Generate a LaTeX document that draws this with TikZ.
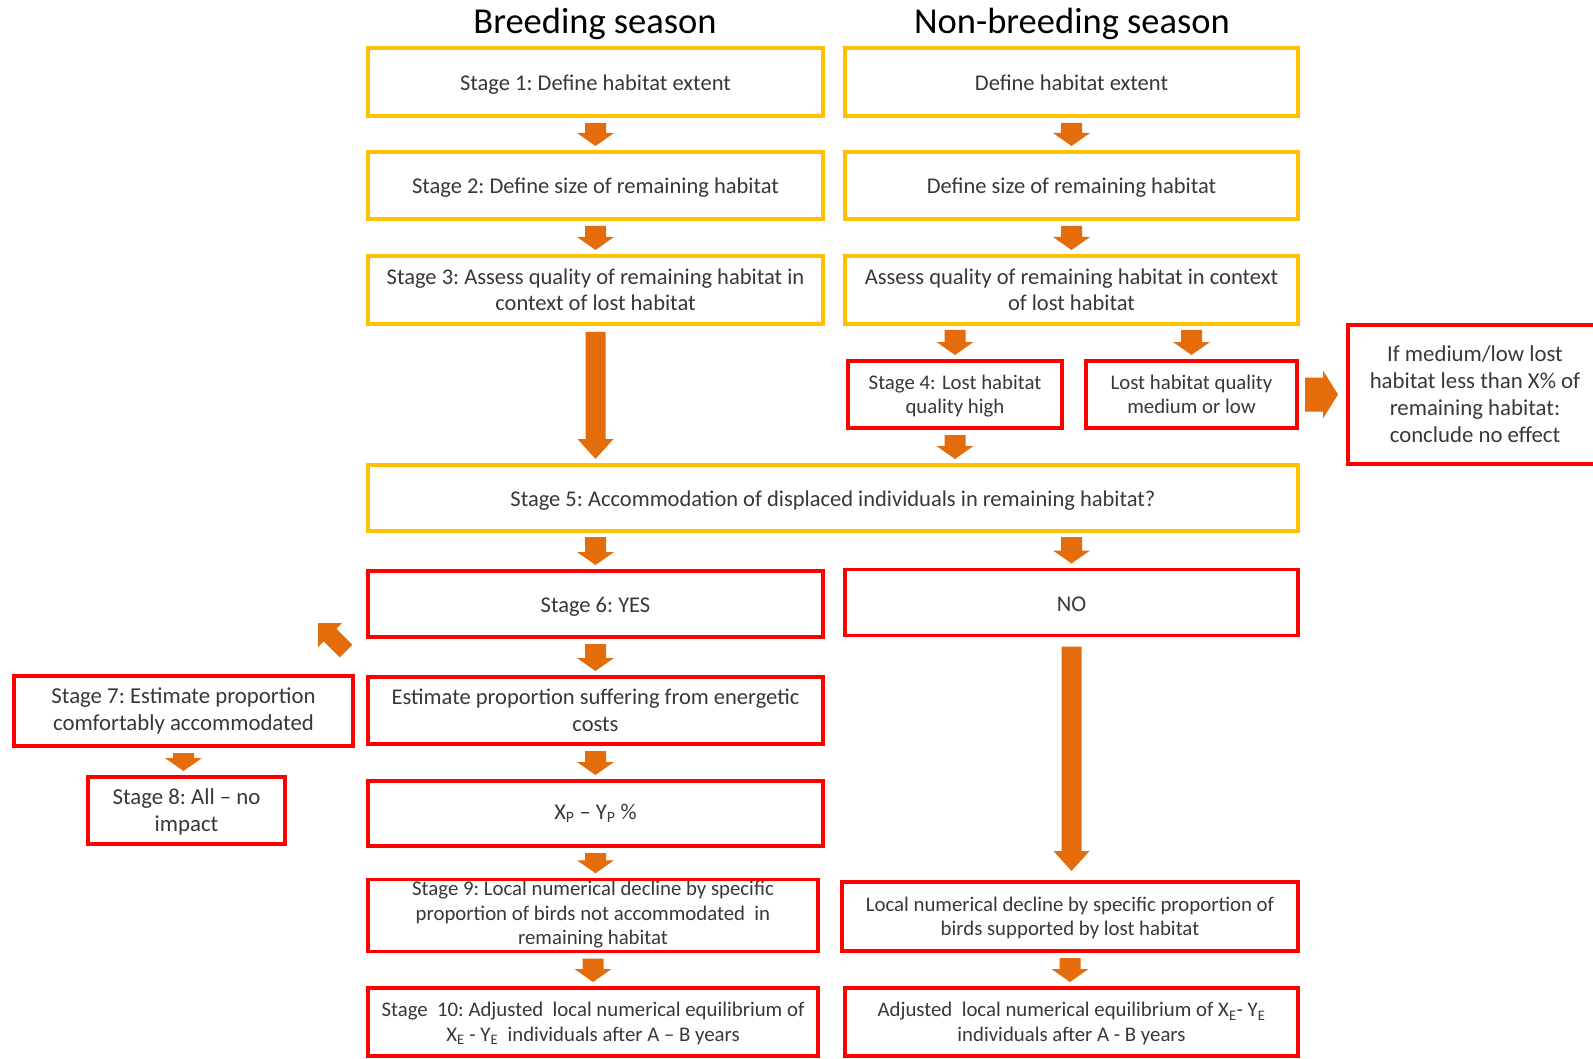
\documentclass[tikz,border=0pt]{standalone}
\usepackage{fontspec}
\setmainfont{Carlito}
\usetikzlibrary{calc}
\definecolor{boxyellow}{RGB}{255,192,0}
\definecolor{boxred}{RGB}{255,0,0}
\definecolor{arroworange}{RGB}{228,108,10}
\definecolor{txt}{RGB}{56,56,56}
\tikzset{
  basebox/.style={draw, line width=3.5pt, align=center, text=txt, inner sep=2pt, outer sep=0pt},
  ybox/.style={basebox, draw=boxyellow, font=\fontsize{22.5}{26.5}\selectfont},
  rbox/.style={basebox, draw=boxred, font=\fontsize{22.5}{26.5}\selectfont},
  rsmall/.style={basebox, draw=boxred, font=\fontsize{20.8}{24.5}\selectfont, text depth=0pt},
  rbig/.style={basebox, draw=boxred, font=\fontsize{22.8}{27}\selectfont},
  oneline/.style={text height=17pt, text depth=0pt},
  coltitle/.style={font=\fontsize{36.5}{40}\selectfont, text=black, anchor=base},
  arrowfill/.style={fill=arroworange},
}
% #1 tail point, #2 tip point, #3 half shaft width, #4 half head width, #5 head length
\newcommand\blockarrow[5]{%
  \coordinate (baT) at #1; \coordinate (baP) at #2;
  \coordinate (baH) at ($(baP)!#5!(baT)$);
  \fill[arrowfill] ($(baT)!#3!90:(baP)$) -- ($(baH)!#3!90:(baP)$) -- ($(baH)!#4!90:(baP)$)
    -- (baP) -- ($(baH)!#4!-90:(baP)$) -- ($(baH)!#3!-90:(baP)$) -- ($(baT)!#3!-90:(baP)$) -- cycle;}
% short downward arrow between two nodes
\newcommand\stepdown[2]{\blockarrow{($(#1.south)+(0,7)$)}{($(#1.south |- #2.north)+(0,-6)$)}{10.5pt}{18.5pt}{13pt}}
\newcommand\longdown[4]{\blockarrow{($(#1.south)+(0,#3)$)}{($(#1.south |- #2.north)+(0,-#4)$)}{10pt}{18pt}{20pt}}
\begin{document}
\begin{tikzpicture}[x=1pt,y=-1pt]
\fill[white] (0,0) rectangle (1593,1059);
\useasboundingbox (0,0) rectangle (1593,1059);

\node[coltitle] (tb) at (595,34) {Breeding season};
\node[coltitle] (tn) at (1072,34) {Non-breeding season};

\node[ybox, oneline, minimum width=455pt, minimum height=68pt] (b1) at (595.5,82) {Stage 1:\ Define habitat extent};
\node[ybox, oneline, minimum width=453pt, minimum height=68pt] (n1) at (1071.5,82) {Define habitat extent};
\node[ybox, oneline, minimum width=455pt, minimum height=67pt] (b2) at (595.5,185.5) {Stage 2:\ Define size of remaining habitat};
\node[ybox, oneline, minimum width=453pt, minimum height=67pt] (n2) at (1071.5,185.5) {Define size of remaining habitat};
\node[ybox, minimum width=455pt, minimum height=68pt] (b3) at (595.5,290) {Stage 3:\ Assess quality of remaining habitat in\\context of lost habitat};
\node[ybox, minimum width=453pt, minimum height=68pt] (n3) at (1071.5,290) {Assess quality of remaining habitat in context\\of lost habitat};

\node[rsmall, minimum width=214pt, minimum height=67pt] (s4) at (955,394.5) {Stage 4: Lost habitat\\quality high};
\node[rsmall, minimum width=211pt, minimum height=67pt] (lq) at (1191.5,394.5) {Lost habitat quality\\medium or low};
\node[rbig, minimum width=254pt, minimum height=139pt] (side) at (1475,394.5) {If medium/low lost\\habitat less than X\% of\\remaining habitat:\\conclude no effect};

\node[ybox, oneline, minimum width=930pt, minimum height=66pt] (s5) at (833,498) {Stage 5:\ Accommodation of displaced individuals in remaining habitat?};

\node[rbox, oneline, minimum width=455pt, minimum height=66pt] (s6) at (595.5,604) {Stage 6:\ YES};
\node[rbox, oneline, minimum width=453pt, minimum height=66pt] (no) at (1071.5,602.5) {NO};

\node[rbig, minimum width=339pt, minimum height=70pt] (s7) at (183.5,711) {Stage 7:\ Estimate proportion\\comfortably accommodated};
\node[rbox, minimum width=455pt, minimum height=67pt] (est) at (595.5,710.5) {Estimate proportion suffering from energetic\\costs};
\node[rbig, text depth=0pt, minimum width=197pt, minimum height=67pt] (s8) at (186.5,810.5) {Stage 8:\ All -- no\\impact};
\node[rbox, minimum width=455pt, minimum height=65pt] (xp) at (595.5,813.5) {X\textsubscript{P} -- Y\textsubscript{P} \%};

\node[rsmall, text depth=5pt, minimum width=450pt, minimum height=71pt] (s9) at (593,915.5) {Stage 9:\ Local numerical decline by specific\\proportion of birds not accommodated\ \ in\\remaining habitat};
\node[rsmall, minimum width=456pt, minimum height=69pt] (loc) at (1070,916.5) {Local numerical decline by specific proportion of\\birds supported by lost habitat};

\node[rsmall, minimum width=450pt, minimum height=68pt] (s10) at (593,1022) {Stage\ \ 10:\ Adjusted\ \ local numerical equilibrium of\\X\textsubscript{E} - Y\textsubscript{E}\ \ individuals after A -- B years};
\node[rsmall, minimum width=453pt, minimum height=68pt] (adj) at (1071.5,1022) {Adjusted\ \ local numerical equilibrium of X\textsubscript{E}- Y\textsubscript{E}\\individuals after A - B years};

% connectors
\stepdown{b1}{b2}
\stepdown{n1}{n2}
\stepdown{b2}{b3}
\stepdown{n2}{n3}
\blockarrow{($(s4.north |- n3.south)+(0,6)$)}{($(s4.north)+(0,-6)$)}{10.5pt}{18.5pt}{13pt}
\blockarrow{($(lq.north |- n3.south)+(0,6)$)}{($(lq.north)+(0,-6)$)}{10.5pt}{18.5pt}{13pt}
\longdown{b3}{s5}{8}{6}
\stepdown{s4}{s5}
\blockarrow{($(lq.east)+(8,0)$)}{($(side.west |- lq.east)+(-10,0)$)}{17pt}{24pt}{15pt}
\blockarrow{($(s6.north |- s5.south)+(0,6)$)}{($(s6.north)+(0,-6)$)}{10.5pt}{18.5pt}{13pt}
\blockarrow{($(no.north |- s5.south)+(0,6)$)}{($(no.north)+(0,-6)$)}{10.5pt}{18.5pt}{13pt}
\stepdown{s6}{est}
\stepdown{est}{xp}
\stepdown{xp}{s9}
\stepdown{s9}{s10}
\stepdown{loc}{adj}
\stepdown{s7}{s8}
\longdown{no}{loc}{11}{11}
% free-floating diagonal arrow
\coordinate (dtail) at (346,651);
\coordinate (dtip) at (318,623);
\blockarrow{(dtail)}{(dtip)}{9pt}{17pt}{17pt}
\end{tikzpicture}
\end{document}
